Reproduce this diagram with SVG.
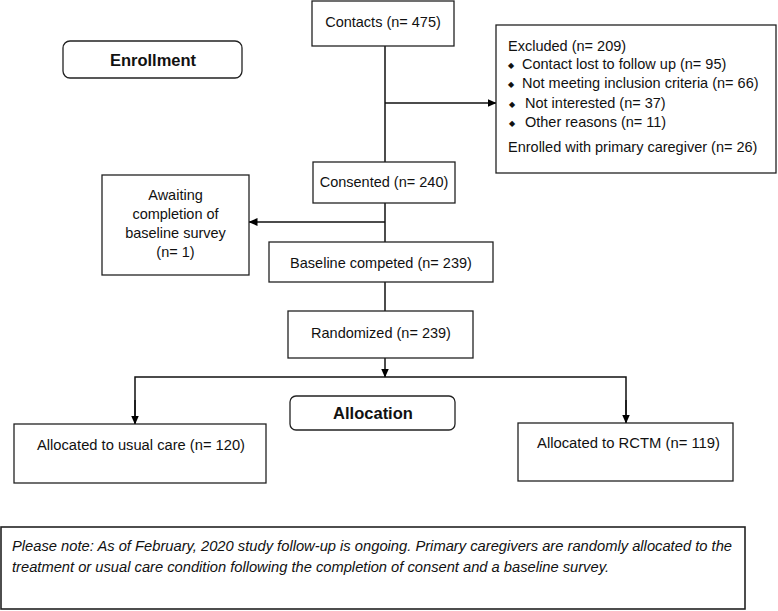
<svg xmlns="http://www.w3.org/2000/svg" width="778" height="611" viewBox="0 0 778 611">
<defs>
<marker id="ah" markerWidth="9" markerHeight="8" refX="8.5" refY="4" orient="auto" markerUnits="userSpaceOnUse">
<path d="M0,0 L9,4 L0,8 z" fill="#000"/>
</marker>
<style>
.box{fill:#fff;stroke:#222;stroke-width:1.3}
.rbox{fill:#fff;stroke:#222;stroke-width:1.3}
.t{font-family:"Liberation Sans",Arial,sans-serif;font-size:14.5px;fill:#111}
.c{text-anchor:middle}
.b{font-family:"Liberation Sans",Arial,sans-serif;font-weight:bold;font-size:16.5px;fill:#111;text-anchor:middle}
.n{font-family:"Liberation Sans Narrow","Liberation Sans",Arial,sans-serif;font-size:14px;fill:#111}
.ni{font-family:"Liberation Sans Narrow","Liberation Sans",Arial,sans-serif;font-size:14px;font-style:italic;fill:#111}
.bul{font-family:"DejaVu Sans",sans-serif;font-size:8px;fill:#111}
.ln{stroke:#111;stroke-width:1.5;fill:none}
</style>
</defs>
<rect width="778" height="611" fill="#fff"/>
<g id="connectors">
<line class="ln" x1="385" y1="46" x2="385" y2="162"/>
<line class="ln" x1="385" y1="103" x2="496" y2="103" marker-end="url(#ah)"/>
<line class="ln" x1="385" y1="203" x2="385" y2="242"/>
<line class="ln" x1="385" y1="222" x2="249" y2="222" marker-end="url(#ah)"/>
<line class="ln" x1="385" y1="282" x2="385" y2="311"/>
<line class="ln" x1="385" y1="358" x2="385" y2="377" marker-end="url(#ah)"/>
<polyline class="ln" points="135,424 135,377 626,377 626,423"/>
<line class="ln" x1="135" y1="400" x2="135" y2="424" marker-end="url(#ah)"/>
<line class="ln" x1="626" y1="400" x2="626" y2="423" marker-end="url(#ah)"/>
</g>
<g id="enrollment">
<rect class="rbox" x="63" y="41" width="179" height="37" rx="7"/>
<text class="b" x="153" y="66">Enrollment</text>
</g>
<g id="contacts">
<rect class="box" x="312" y="1" width="142" height="45"/>
<text class="t c" x="383" y="27">Contacts (n= 475)</text>
</g>
<g id="excluded">
<rect class="box" x="496" y="25" width="280" height="148"/>
<text class="t" x="508" y="51">Excluded (n= 209)</text>
<text class="bul" x="508" y="68">◆</text>
<text class="t" x="522" y="69">Contact lost to follow up (n= 95)</text>
<text class="bul" x="508" y="87">◆</text>
<text class="t" x="522" y="88">Not meeting inclusion criteria (n= 66)</text>
<text class="bul" x="509" y="107">◆</text>
<text class="t" x="525" y="108">Not interested (n= 37)</text>
<text class="bul" x="509" y="126">◆</text>
<text class="t" x="525" y="127">Other reasons (n= 11)</text>
<text class="t" x="508" y="152">Enrolled with primary caregiver (n= 26)</text>
</g>
<g id="consented">
<rect class="box" x="313" y="162" width="142" height="41"/>
<text class="t c" x="384" y="187">Consented (n= 240)</text>
</g>
<g id="awaiting">
<rect class="box" x="102" y="175" width="147" height="100"/>
<text class="t c" x="175.5" y="200">Awaiting</text>
<text class="t c" x="175.5" y="219">completion of</text>
<text class="t c" x="175.5" y="238">baseline survey</text>
<text class="t c" x="175.5" y="257">(n= 1)</text>
</g>
<g id="baseline">
<rect class="box" x="269" y="242" width="224" height="40"/>
<text class="t c" x="381" y="268">Baseline competed (n= 239)</text>
</g>
<g id="randomized">
<rect class="box" x="288" y="311" width="185" height="47"/>
<text class="t c" x="381" y="338">Randomized (n= 239)</text>
</g>
<g id="allocation">
<rect class="rbox" x="290" y="396" width="165" height="34" rx="6"/>
<text class="b" x="373" y="419">Allocation</text>
</g>
<g id="usualcare">
<rect class="box" x="14" y="424" width="252" height="59"/>
<text class="n" x="37" y="450" textLength="208" lengthAdjust="spacingAndGlyphs">Allocated to usual care (n= 120)</text>
</g>
<g id="rctm">
<rect class="box" x="518" y="423" width="215" height="58"/>
<text class="n" x="537" y="448" textLength="183" lengthAdjust="spacingAndGlyphs">Allocated to RCTM (n= 119)</text>
</g>
<g id="note">
<rect class="box" x="1" y="527" width="744" height="82" style="stroke-width:1.6"/>
<text class="ni" x="12" y="551" textLength="720" lengthAdjust="spacingAndGlyphs">Please note: As of February, 2020 study follow-up is ongoing. Primary caregivers are randomly allocated to the</text>
<text class="ni" x="12" y="572" textLength="597" lengthAdjust="spacingAndGlyphs">treatment or usual care condition following the completion of consent and a baseline survey.</text>
</g>
</svg>
